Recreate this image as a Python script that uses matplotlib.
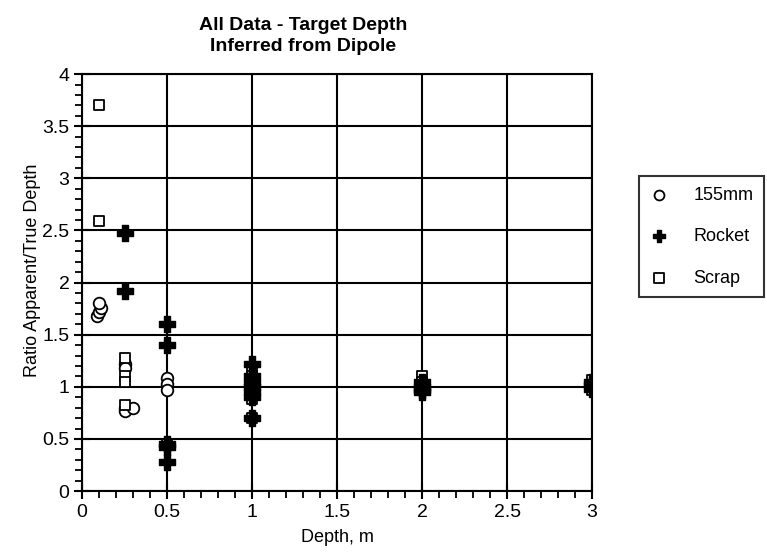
import matplotlib
matplotlib.use("Agg")
import matplotlib.pyplot as plt
from matplotlib.ticker import MultipleLocator
from matplotlib import font_manager

fams = {f.name for f in font_manager.fontManager.ttflist}
FONT = []
for cand in ['Liberation Sans Narrow', 'DejaVu Sans Condensed', 'Liberation Sans', 'DejaVu Sans']:
    if cand in fams:
        FONT.append(cand)
plt.rcParams['font.family'] = FONT

# ---- data (Depth m, ratio apparent/true depth) ----
mm155_x = [0.09, 0.1, 0.11, 0.1, 0.25, 0.25, 0.25, 0.25, 0.3, 0.5, 0.5, 0.5, 1.0, 2.0, 3.0]
mm155_y = [1.68, 1.72, 1.76, 1.80, 1.22, 1.18, 0.80, 0.77, 0.80, 1.08, 1.03, 0.97, 1.0, 1.0, 1.0]

rocket_x = [0.25, 0.25, 0.5, 0.5, 0.5, 0.5, 0.5, 1.0, 1.0, 1.0, 1.0, 1.0, 1.0, 1.0, 2.0, 2.0, 2.0, 2.0, 3.0, 3.0, 3.0]
rocket_y = [2.48, 1.92, 1.60, 1.40, 0.45, 0.42, 0.28, 1.22, 1.10, 1.05, 1.00, 0.95, 0.90, 0.70, 1.05, 1.00, 0.97, 0.95, 1.05, 1.02, 0.98]

scrap_x = [0.1, 0.1, 0.25, 0.25, 0.25, 0.25, 0.5, 1.0, 1.0, 1.0, 1.0, 2.0, 2.0, 2.0, 3.0, 3.0]
scrap_y = [3.70, 2.59, 1.28, 1.10, 1.05, 0.83, 0.45, 1.19, 1.10, 0.88, 0.70, 1.10, 1.05, 1.00, 1.07, 0.97]

labels = ['155mm', 'Rocket', 'Scrap']
xtick_vals = [0, 0.5, 1, 1.5, 2, 2.5, 3]
xtick_labels = ['0', '0.5', '1', '1.5', '2', '2.5', '3']
ytick_vals = [0, 0.5, 1, 1.5, 2, 2.5, 3, 3.5, 4]
ytick_labels = ['0', '0.5', '1', '1.5', '2', '2.5', '3', '3.5', '4']
title = "All Data - Target Depth\nInferred from Dipole"

fig = plt.figure(figsize=(7.67, 5.53), dpi=100)
ax = fig.add_axes([0.107, 0.112, 0.665, 0.754])

ax.scatter(mm155_x, mm155_y, marker='o', s=70, facecolors='white', edgecolors='black', linewidths=1.3, label=labels[0], zorder=3)
ax.scatter(rocket_x, rocket_y, marker='P', s=120, color='black', label=labels[1], zorder=4)
ax.scatter(scrap_x, scrap_y, marker='s', s=60, facecolors='white', edgecolors='black', linewidths=1.3, label=labels[2], zorder=3)

ax.set_xlim(0, 3)
ax.set_ylim(0, 4)
ax.xaxis.set_minor_locator(MultipleLocator(0.1))
ax.yaxis.set_minor_locator(MultipleLocator(0.1))
ax.set_xticks(xtick_vals)
ax.set_xticklabels(xtick_labels)
ax.set_yticks(ytick_vals)
ax.set_yticklabels(ytick_labels)
ax.grid(True, which='major', color='black', linewidth=1.5)
ax.set_axisbelow(True)
for sp in ax.spines.values():
    sp.set_linewidth(1.5)
ax.tick_params(which='major', direction='inout', length=12, width=1.5, labelsize=14, pad=3)
ax.tick_params(which='minor', direction='out', length=5, width=1.3)

ax.set_xlabel('Depth, m', fontsize=13, labelpad=6)
fig.text(0.042, 0.512, 'Ratio Apparent/True Depth', rotation=90, ha='center', va='center', fontsize=13)
fig.text(0.395, 0.935, title, ha='center', va='center', fontsize=14, fontweight='bold', linespacing=1.35)

leg = ax.legend(loc='upper left', bbox_to_anchor=(639/767, 1 - 176/553), bbox_transform=fig.transFigure,
                frameon=True, fancybox=False, edgecolor='black', fontsize=13,
                handlelength=1.0, handletextpad=1.4, labelspacing=1.35, borderpad=0.6,
                borderaxespad=0, markerscale=0.85)
leg.get_frame().set_linewidth(1.5)

fig.savefig('out.png', dpi=100)
